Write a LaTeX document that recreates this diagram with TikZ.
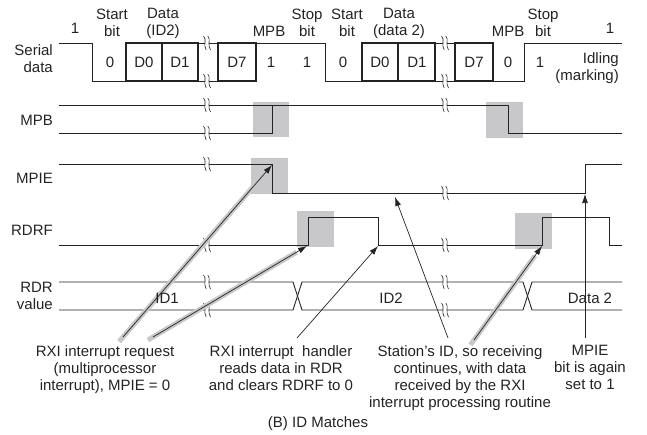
\documentclass[tikz,border=0pt]{standalone}
\usepackage{fontspec}
\setmainfont{Liberation Sans}
\usepackage{tikz}
\usetikzlibrary{arrows.meta,calc}
\definecolor{sig}{RGB}{35,35,35}
\definecolor{hot}{RGB}{200,200,203}

\begin{document}
\begin{tikzpicture}[x=1pt, y=-1pt,
          wave/.style={draw=sig, line width=0.9pt},
          bitbox/.style={draw=sig, line width=1.3pt},
          txt/.style={font=\fontsize{15}{17}\selectfont, inner sep=0pt, align=center, text=sig},
          lbl/.style={txt, anchor=east, align=right},
          hotbox/.style={fill=hot},
          arr/.style={-{Latex[length=9pt,width=6pt]}, draw=sig, line width=0.7pt},
          halo/.style={draw=hot, line width=5pt},
          gap/.pic={
            \fill[white] (-2.2,-7) rectangle (2.2,7);
            \draw[sig, line width=0.6pt] (-3.5,-7) .. controls (0,-4) and (-4,2) .. (-0.8,7);
            \draw[sig, line width=0.6pt] (0.8,-7) .. controls (4,-4) and (0,2) .. (3.5,7);
          }
        ]
          \useasboundingbox (0,0) rectangle (647,434);
          \fill[hotbox] (253,102) rectangle (289,137);
          \fill[hotbox] (486,102) rectangle (523,138);
          \fill[hotbox] (251,158) rectangle (288,194);
          \fill[hotbox] (297,211) rectangle (334,247);
          \fill[hotbox] (515,213) rectangle (552,249);

          \coordinate (fallmpie) at (272,165);
          \coordinate (rise1) at (307,246);
          \coordinate (fall1) at (378,246);
          \coordinate (lowmpie) at (395,197);
          \coordinate (rise2) at (542,246);
          \coordinate (risempie) at (585,194);

          \node[lbl] (ser) at (53,59) {Serial\\data};
          \node[lbl] (mpb) at (53,120) {MPB};
          \node[lbl] (mpie) at (53,178) {MPIE};
          \node[lbl] (rdrf) at (53,230) {RDRF};
          \node[lbl] (rdr) at (53,296) {RDR\\value};

          \node[txt] (one1) at (75,28) {1};
          \node[txt] (start1) at (112,23) {Start\\bit};
          \node[txt] (data1) at (163,23) {Data\\(ID2)};
          \node[txt] (mpbbit1) at (269,31) {MPB};
          \node[txt] (stop1) at (307,23) {Stop\\bit};
          \node[txt] (start2) at (347,23) {Start\\bit};
          \node[txt] (data2) at (399,23) {Data\\(data 2)};
          \node[txt] (mpbbit2) at (508,31) {MPB};
          \node[txt] (stop2) at (543,23) {Stop\\bit};
          \node[txt] (one2) at (610,28) {1};
          \node[txt, anchor=east, align=right] (idle) at (619,68) {Idling\\(marking)};

          \foreach \x/\t [count=\i] in {110/0,144/D0,180/D1,237/D7,271/1,307/1,
                                        343/0,380/D0,417/D1,474/D7,508/0,540/1}
            \node[txt] (bit\i) at (\x,62) {\t};

          \draw[wave] (59,43) -- (92,43) -- (92,81) -- (126,81);
          \draw[bitbox] (126,43) rectangle (198,81) (162,43) -- (162,81);
          \draw[wave] (198,43) -- (218,43) (198,81) -- (218,81);
          \draw[bitbox] (218,43) rectangle (256,81);
          \draw[wave] (256,43) -- (325,43) -- (325,81) -- (362,81);
          \draw[bitbox] (362,43) rectangle (435,81) (398,43) -- (398,81);
          \draw[wave] (435,43) -- (455,43) (435,81) -- (455,81);
          \draw[bitbox] (455,43) rectangle (493,81);
          \draw[wave] (493,81) -- (524,81) -- (524,43) -- (622,43);

          \draw[wave] (59,105) -- (508,105) -- (508,133) -- (622,133);
          \draw[wave] (59,133) -- (272,133) -- (272,105);
          \draw[wave] (59,164) -- (272,164) -- (272,193) -- (585,193) -- (585,164) -- (622,164);
          \draw[wave] (59,245) -- (308,245) -- (308,217) -- (378,217) -- (378,245)
                      -- (542,245) -- (542,217) -- (609,217) -- (609,245) -- (622,245);
          \draw[wave] (59,282) -- (293,282) -- (302,310) -- (523,310) -- (532,282) -- (622,282);
          \draw[wave] (59,310) -- (293,310) -- (302,282) -- (523,282) -- (532,310) -- (622,310);

          \foreach \x/\y in {207/43,207/81,445/43,445/81,207/105,445/105,207/133,
                             207/164,445/193,207/245,445/245,207/282,207/310,445/282,445/310}
            \pic at (\x,\y) {gap};

          \node[txt, anchor=north] (req) at (105,345) {RXI interrupt request\\(multiprocessor\\interrupt), MPIE = 0};
          \node[txt, anchor=north] (hdl) at (281,345) {RXI interrupt\ \ handler\\reads data in RDR\\and clears RDRF to 0};
          \node[txt, anchor=north] (stn) at (460,345) {Station's ID, so receiving\\continues, with data\\received by the RXI\\interrupt processing routine};
          \node[txt, anchor=north] (again) at (590,345) {MPIE\\bit is again\\set to 1};
          \node[txt] (cap) at (318,424) {(B) ID Matches};

          \coordinate (s1) at (123,337);
          \coordinate (s2) at (153,337);
          \coordinate (s3) at (297,338);
          \coordinate (s4) at (448,338);
          \coordinate (s5) at (474,340);
          \coordinate (s6) at (585,338);

          \draw[halo] ($(s1)!-6pt!(fallmpie)$) -- ($(fallmpie)!12pt!(s1)$);
          \draw[halo] ($(s2)!-6pt!(rise1)$) -- ($(rise1)!12pt!(s2)$);
          \draw[halo] ($(s5)!-6pt!(rise2)$) -- ($(rise2)!12pt!(s5)$);
          \draw[arr] (s1) -- (fallmpie);
          \draw[arr] (s2) -- (rise1);
          \draw[arr] (s3) -- (fall1);
          \draw[arr] (s4) -- (lowmpie);
          \draw[arr] (s5) -- (rise2);
          \draw[arr] (s6) -- (risempie);

          \node[txt] (id1) at (167,298) {ID1};
          \node[txt] (id2) at (391,298) {ID2};
          \node[txt] (dat2) at (590,298) {Data 2};
        \end{tikzpicture}
\end{document}
